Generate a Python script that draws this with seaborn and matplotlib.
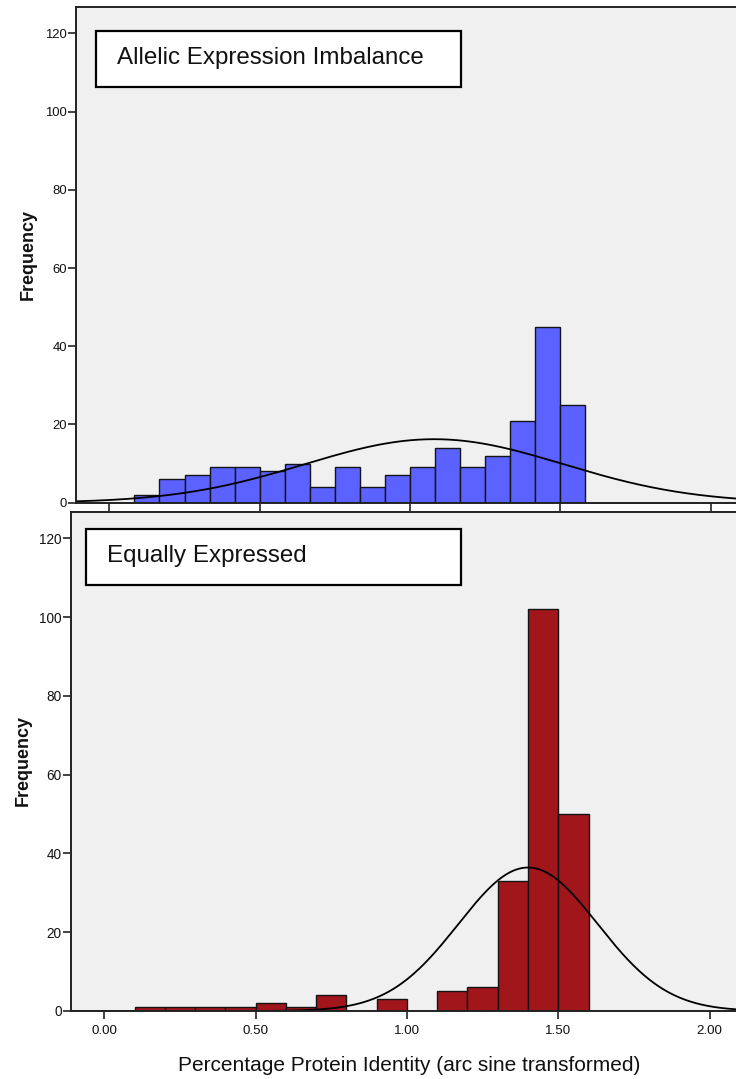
import numpy as np
import pandas as pd
import matplotlib
matplotlib.use("Agg")
import matplotlib.pyplot as plt
import seaborn as sns
from matplotlib.patches import Rectangle

# ---------------- data ----------------
x_ticks = [0.0, 0.5, 1.0, 1.5, 2.0]
x_tick_labels = ["0.00", "0.50", "1.00", "1.50", "2.00"]
y_ticks = [0, 20, 40, 60, 80, 100, 120]

panel_titles = ["Allelic Expression Imbalance", "Equally Expressed"]
x_label = "Percentage Protein Identity (arc sine transformed)"
y_label = "Frequency"

# Allelic expression imbalance histogram (bins of 1/12 starting at 1/12)
aei_first_edge = 1 / 12
aei_bin_width = 1 / 12
aei_counts = [2, 6, 7, 9, 9, 8, 10, 4, 9, 4, 7, 9, 14, 9, 12, 21, 45, 25]
aei_mean = 1.08
aei_sd = 0.43

# Equally expressed histogram (bins of 0.1 starting at 0.1)
eq_first_edge = 0.1
eq_bin_width = 0.1
eq_counts = [1, 1, 1, 1, 2, 1, 4, 0, 3, 0, 5, 6, 33, 102, 50]
eq_mean = 1.40
eq_sd = 0.23

# ---------------- style ----------------
sns.set_style("white")
plt.rcParams["font.family"] = ["Liberation Sans", "DejaVu Sans"]

W, H = 736, 1079
fig = plt.figure(figsize=(W / 100, H / 100), dpi=100)
fig.patch.set_facecolor("white")

def fx(px):
    return px / W

def fy(py):
    return 1 - py / H

panels = [
    dict(title=panel_titles[0], counts=aei_counts, first=aei_first_edge, bw=aei_bin_width,
         mean=aei_mean, sd=aei_sd, color="#5C62FF",
         left=76, top=7.3, bottom=502.7, xlim=(-0.111, 2.089), ymax=126.65,
         box=(95.7, 30.7, 461, 87.3), text_xy=(117.3, 64.0), show_xlabels=False,
         ylab_x=-0.0647, ylab_y=0.502, ticksize=9.4),
    dict(title=panel_titles[1], counts=eq_counts, first=eq_first_edge, bw=eq_bin_width,
         mean=eq_mean, sd=eq_sd, color="#A1161B",
         left=70.7, top=512.3, bottom=1011, xlim=(-0.111, 2.092), ymax=126.6,
         box=(85.7, 528.7, 461, 585), text_xy=(106.7, 562.3), show_xlabels=True,
         ylab_x=-0.0637, ylab_y=0.5017, ticksize=9.8),
]

spine_col = "#222222"

for p in panels:
    ax = fig.add_axes([fx(p["left"]), fy(p["bottom"]), 1 - fx(p["left"]) + 0.002,
                       (p["bottom"] - p["top"]) / H])
    ax.set_facecolor("#F0F0F0")

    counts = np.asarray(p["counts"], dtype=float)
    n = len(counts)
    lo = p["first"]
    hi = p["first"] + n * p["bw"]
    centers = lo + p["bw"] * (np.arange(n) + 0.5)
    df = pd.DataFrame({"value": centers, "count": counts})

    sns.histplot(data=df, x="value", weights="count", bins=n, binrange=(lo, hi),
                 stat="count", color=p["color"], alpha=1.0, edgecolor="#141414",
                 linewidth=1.0, ax=ax)

    total = counts.sum()
    xs = np.linspace(p["xlim"][0], p["xlim"][1], 500)
    ys = total * p["bw"] * np.exp(-0.5 * ((xs - p["mean"]) / p["sd"]) ** 2) / (p["sd"] * np.sqrt(2 * np.pi))
    curve = pd.DataFrame({"x": xs, "y": ys})
    sns.lineplot(data=curve, x="x", y="y", color="black", linewidth=1.3, ax=ax)

    ax.set_xlim(*p["xlim"])
    ax.set_ylim(0, p["ymax"])
    ax.set_xticks(x_ticks)
    ax.set_yticks(y_ticks)
    ax.set_yticklabels([str(v) for v in y_ticks])
    if p["show_xlabels"]:
        ax.set_xticklabels(x_tick_labels)
    else:
        ax.set_xticklabels([])

    for s in ["left", "top", "bottom"]:
        ax.spines[s].set_visible(True)
        ax.spines[s].set_color(spine_col)
        ax.spines[s].set_linewidth(1.4)
    ax.spines["right"].set_visible(False)

    ax.tick_params(axis="y", direction="out", length=5.8, width=1.2, color=spine_col,
                   labelsize=p["ticksize"], pad=0.6, left=True, labelcolor="#111111")
    ax.tick_params(axis="x", direction="out", length=5.8, width=1.2, color=spine_col,
                   labelsize=9.6, pad=4.1, bottom=True, labelcolor="#111111")

    ax.set_ylabel(y_label, fontsize=13, fontweight="bold", color="#111111")
    ax.yaxis.label.set_va("baseline")
    ax.yaxis.set_label_coords(p["ylab_x"], p["ylab_y"])

    if p["show_xlabels"]:
        ax.set_xlabel(x_label, fontsize=15, color="#111111")
        ax.xaxis.label.set_va("baseline")
        ax.xaxis.set_label_coords((408.5 - p["left"]) / (W - p["left"]),
                                  (p["bottom"] - 1070.7) / (p["bottom"] - p["top"]))
    else:
        ax.set_xlabel("")

    # title box
    x0, y0, x1, y1 = p["box"]
    rect = Rectangle((fx(x0), fy(y1)), fx(x1) - fx(x0), fy(y0) - fy(y1),
                     transform=fig.transFigure, facecolor="white", edgecolor="black",
                     linewidth=1.6, zorder=5)
    fig.add_artist(rect)
    fig.text(fx(p["text_xy"][0]), fy(p["text_xy"][1]), p["title"], fontsize=17.4,
             ha="left", va="baseline", color="#111111", zorder=6)

fig.savefig("out.png", dpi=100, facecolor="white")
